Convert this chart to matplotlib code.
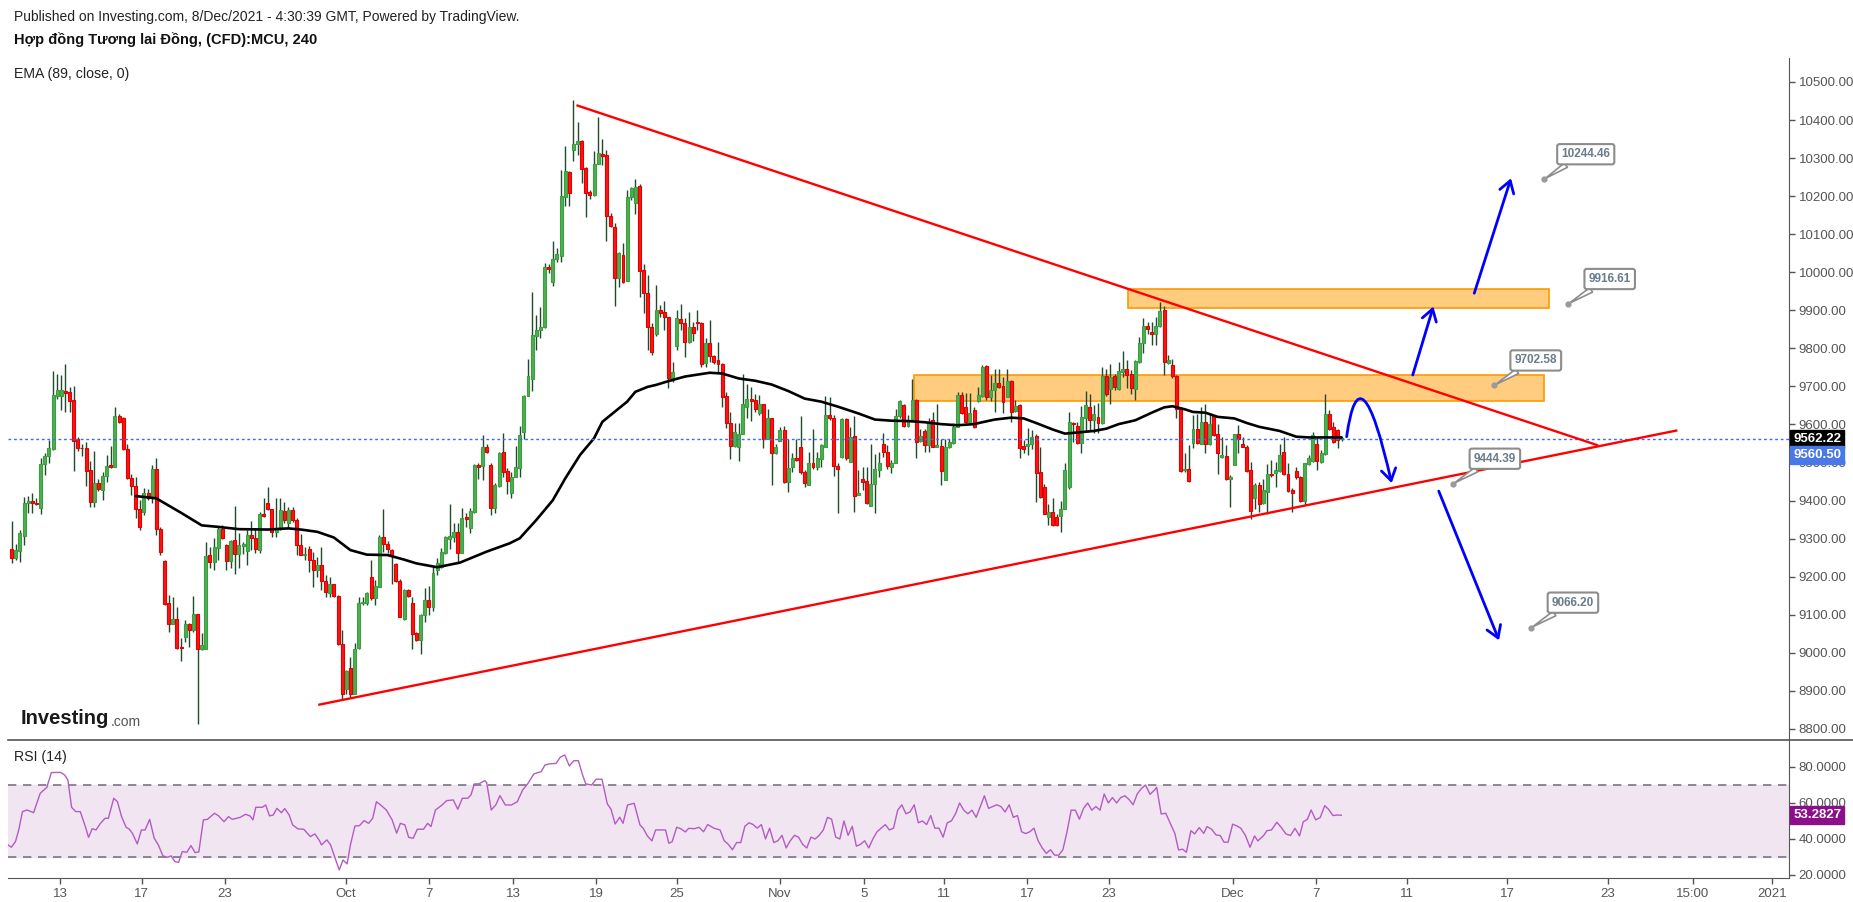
import matplotlib
matplotlib.use("Agg")
import matplotlib.pyplot as plt
from matplotlib.patches import Rectangle, FancyArrowPatch
from matplotlib.path import Path
from matplotlib.lines import Line2D

# ---- data (4h candles, bar index 0 = Sep 8 late) ----
opens = [
    9272, 9250, 9268, 9308, 9393, 9400, 9394, 9381, 9495, 9517,
    9536, 9675, 9675, 9688, 9685, 9664, 9563, 9539, 9537, 9480,
    9396, 9445, 9429, 9464, 9493, 9489, 9622, 9618, 9535, 9460,
    9439, 9379, 9371, 9419, 9408, 9482, 9326, 9241, 9130, 9077,
    9088, 9015, 9042, 9075, 9061, 9102, 9011, 9011, 9256, 9239,
    9276, 9325, 9283, 9242, 9296, 9261, 9280, 9268, 9309, 9303,
    9270, 9364, 9393, 9377, 9318, 9325, 9372, 9342, 9375, 9350,
    9283, 9258, 9274, 9245, 9217, 9230, 9189, 9156, 9180, 9150,
    9022, 8904, 8961, 8893, 9014, 9130, 9130, 9200, 9143, 9173,
    9305, 9287, 9270, 9233, 9188, 9090, 9165, 9130, 9051, 9035,
    9099, 9140, 9120, 9218, 9226, 9263, 9298, 9305, 9317, 9263,
    9357, 9327, 9371, 9494, 9492, 9540, 9494, 9380, 9439, 9529,
    9478, 9419, 9461, 9485, 9579, 9675, 9719, 9833, 9847, 9855,
    10013, 9975, 10034, 10044, 10199, 10264, 10321, 10336, 10345, 10273,
    10210, 10202, 10285, 10310, 10307, 10149, 10118, 9984, 10045, 9978,
    10197, 10183, 10227, 10006, 9946, 9855, 9838, 9901, 9896, 9882,
    9717, 9807, 9876, 9866, 9818, 9855, 9868, 9866, 9761, 9813,
    9780, 9769, 9759, 9675, 9603, 9544, 9540, 9576, 9645, 9668,
    9664, 9629, 9654, 9563, 9616, 9524, 9557, 9585, 9448, 9489,
    9513, 9540, 9474, 9442, 9498, 9489, 9509, 9541, 9624, 9616,
    9491, 9515, 9614, 9502, 9569, 9416, 9458, 9451, 9386, 9443,
    9480, 9550, 9527, 9489, 9499, 9622, 9651, 9597, 9614, 9664,
    9556, 9583, 9546, 9611, 9541, 9543, 9454, 9540, 9552, 9594,
    9677, 9645, 9607, 9638, 9662, 9675, 9753, 9673, 9690, 9708,
    9701, 9673, 9714, 9636, 9651, 9543, 9544, 9550, 9570, 9475,
    9436, 9357, 9370, 9357, 9359, 9377, 9436, 9605, 9596, 9552,
    9618, 9645, 9611, 9620, 9603, 9727, 9692, 9728, 9692, 9738,
    9745, 9734, 9692, 9765, 9813, 9858, 9843, 9839, 9858, 9900,
    9762, 9756, 9727, 9642, 9480, 9484, 9552, 9589, 9550, 9607,
    9548, 9622, 9575, 9515, 9518, 9458, 9494, 9575, 9550, 9541,
    9480, 9406, 9441, 9394, 9423, 9471, 9473, 9478, 9528, 9471,
    9427, 9477, 9462, 9399, 9496, 9505, 9548, 9502, 9522, 9627,
    9594, 9585, 9561,
]
highs = [
    9346, 9287, 9322, 9410, 9413, 9419, 9406, 9511, 9526, 9559,
    9740, 9734, 9731, 9759, 9699, 9701, 9568, 9550, 9555, 9504,
    9530, 9458, 9476, 9520, 9543, 9645, 9627, 9620, 9550, 9471,
    9463, 9401, 9432, 9430, 9493, 9513, 9331, 9244, 9152, 9147,
    9121, 9038, 9086, 9079, 9149, 9103, 9051, 9290, 9279, 9301,
    9331, 9336, 9285, 9296, 9385, 9314, 9290, 9322, 9347, 9325,
    9371, 9408, 9436, 9379, 9406, 9406, 9397, 9384, 9384, 9355,
    9311, 9279, 9280, 9265, 9252, 9279, 9204, 9200, 9182, 9152,
    9060, 8954, 8990, 9025, 9147, 9147, 9160, 9244, 9191, 9309,
    9379, 9294, 9274, 9235, 9195, 9169, 9169, 9147, 9055, 9103,
    9170, 9175, 9225, 9248, 9275, 9307, 9391, 9340, 9340, 9380,
    9367, 9380, 9496, 9498, 9572, 9549, 9498, 9445, 9529, 9578,
    9485, 9476, 9543, 9596, 9677, 9772, 9949, 9888, 9910, 10025,
    10023, 10082, 10063, 10269, 10332, 10267, 10453, 10394, 10348, 10276,
    10216, 10319, 10409, 10349, 10320, 10155, 10129, 10054, 10078, 10216,
    10225, 10244, 10231, 10023, 9993, 9866, 9967, 9914, 9925, 9883,
    9765, 9901, 9916, 9879, 9896, 9870, 9901, 9870, 9826, 9875,
    9782, 9816, 9762, 9686, 9633, 9604, 9603, 9732, 9706, 9699,
    9681, 9677, 9655, 9640, 9616, 9550, 9594, 9596, 9563, 9524,
    9563, 9622, 9480, 9528, 9588, 9527, 9550, 9676, 9673, 9625,
    9498, 9618, 9618, 9594, 9622, 9480, 9489, 9489, 9548, 9522,
    9528, 9578, 9546, 9506, 9642, 9664, 9654, 9625, 9719, 9668,
    9587, 9587, 9618, 9633, 9655, 9563, 9561, 9563, 9603, 9686,
    9686, 9682, 9682, 9645, 9699, 9756, 9756, 9730, 9747, 9747,
    9725, 9747, 9717, 9664, 9655, 9559, 9590, 9585, 9575, 9541,
    9443, 9392, 9406, 9366, 9399, 9499, 9633, 9607, 9607, 9648,
    9688, 9679, 9651, 9657, 9752, 9747, 9759, 9734, 9765, 9794,
    9769, 9743, 9769, 9830, 9879, 9870, 9870, 9883, 9922, 9911,
    9782, 9773, 9730, 9645, 9524, 9546, 9625, 9627, 9646, 9655,
    9631, 9625, 9601, 9568, 9546, 9467, 9576, 9598, 9568, 9546,
    9502, 9447, 9449, 9458, 9496, 9508, 9502, 9550, 9568, 9498,
    9432, 9489, 9464, 9499, 9519, 9581, 9568, 9533, 9680, 9638,
    9607, 9589, 9568,
]
lows = [
    9235, 9244, 9239, 9283, 9368, 9368, 9388, 9366, 9467, 9499,
    9533, 9668, 9638, 9633, 9633, 9478, 9531, 9517, 9439, 9384,
    9384, 9425, 9401, 9449, 9487, 9489, 9604, 9534, 9458, 9416,
    9355, 9322, 9362, 9401, 9394, 9309, 9257, 9125, 9055, 9077,
    9010, 8979, 9029, 9016, 9055, 8814, 9007, 9011, 9224, 9217,
    9244, 9299, 9217, 9224, 9206, 9222, 9261, 9230, 9270, 9263,
    9263, 9357, 9375, 9305, 9305, 9322, 9340, 9331, 9344, 9257,
    9257, 9244, 9213, 9173, 9200, 9165, 9147, 9147, 9147, 9020,
    8880, 8893, 8884, 8893, 9011, 9125, 9125, 9140, 9125, 9173,
    9265, 9263, 9182, 9187, 9093, 9086, 9147, 9011, 9032, 8997,
    9080, 9100, 9110, 9205, 9222, 9261, 9272, 9292, 9237, 9263,
    9331, 9314, 9367, 9458, 9454, 9524, 9362, 9368, 9437, 9461,
    9417, 9408, 9461, 9463, 9561, 9675, 9688, 9797, 9826, 9853,
    9999, 9964, 10028, 10028, 10174, 10175, 10293, 10308, 10235, 10146,
    10192, 10200, 10285, 10282, 10082, 10120, 9912, 9962, 9971, 9978,
    10190, 10153, 9936, 9892, 9797, 9783, 9833, 9883, 9848, 9697,
    9712, 9797, 9848, 9778, 9815, 9820, 9848, 9750, 9752, 9765,
    9760, 9738, 9647, 9592, 9509, 9541, 9505, 9575, 9616, 9610,
    9633, 9625, 9537, 9561, 9441, 9522, 9557, 9445, 9423, 9474,
    9505, 9471, 9435, 9441, 9484, 9480, 9489, 9540, 9611, 9465,
    9368, 9511, 9508, 9502, 9371, 9414, 9428, 9392, 9386, 9368,
    9463, 9515, 9484, 9473, 9499, 9616, 9594, 9594, 9613, 9511,
    9555, 9528, 9528, 9540, 9540, 9441, 9454, 9537, 9550, 9594,
    9627, 9604, 9605, 9590, 9660, 9673, 9664, 9662, 9633, 9695,
    9629, 9671, 9607, 9633, 9513, 9524, 9520, 9535, 9397, 9406,
    9364, 9335, 9334, 9333, 9318, 9377, 9430, 9554, 9550, 9526,
    9581, 9585, 9578, 9578, 9601, 9674, 9655, 9690, 9690, 9725,
    9695, 9681, 9664, 9762, 9787, 9839, 9808, 9808, 9857, 9730,
    9760, 9723, 9616, 9476, 9476, 9449, 9537, 9548, 9548, 9526,
    9546, 9569, 9471, 9511, 9455, 9384, 9493, 9524, 9540, 9476,
    9353, 9379, 9370, 9392, 9364, 9462, 9436, 9476, 9467, 9423,
    9370, 9458, 9397, 9388, 9493, 9502, 9480, 9499, 9519, 9585,
    9552, 9537, 9557,
]
closes = [
    9250, 9270, 9314, 9393, 9399, 9393, 9390, 9495, 9517, 9538,
    9677, 9690, 9690, 9684, 9662, 9557, 9537, 9537, 9478, 9396,
    9445, 9431, 9464, 9492, 9489, 9622, 9607, 9536, 9460, 9439,
    9379, 9331, 9419, 9408, 9482, 9326, 9265, 9128, 9077, 9090,
    9013, 9013, 9075, 9061, 9102, 9011, 9020, 9254, 9239, 9277,
    9325, 9301, 9242, 9294, 9261, 9283, 9287, 9309, 9302, 9272,
    9366, 9359, 9378, 9318, 9327, 9375, 9349, 9375, 9350, 9283,
    9258, 9258, 9244, 9217, 9230, 9189, 9159, 9180, 9150, 9022,
    8893, 8953, 8893, 9011, 9130, 9134, 9156, 9143, 9175, 9305,
    9287, 9272, 9257, 9189, 9095, 9165, 9149, 9049, 9035, 9099,
    9140, 9120, 9210, 9235, 9266, 9305, 9307, 9317, 9263, 9354,
    9351, 9373, 9494, 9489, 9540, 9529, 9380, 9441, 9526, 9476,
    9452, 9463, 9489, 9572, 9675, 9727, 9835, 9847, 9857, 10013,
    10008, 10035, 10048, 10200, 10267, 10209, 10337, 10346, 10271, 10207,
    10202, 10285, 10313, 10306, 10149, 10122, 9984, 10050, 9974, 10197,
    10221, 10225, 10004, 9945, 9855, 9791, 9901, 9894, 9883, 9721,
    9739, 9879, 9866, 9816, 9855, 9841, 9866, 9758, 9813, 9780,
    9765, 9758, 9673, 9604, 9544, 9579, 9576, 9654, 9668, 9662,
    9640, 9654, 9563, 9616, 9524, 9540, 9585, 9448, 9487, 9513,
    9506, 9474, 9445, 9500, 9489, 9513, 9546, 9626, 9616, 9491,
    9482, 9614, 9511, 9568, 9413, 9420, 9449, 9394, 9443, 9482,
    9500, 9528, 9491, 9500, 9622, 9661, 9597, 9611, 9664, 9553,
    9569, 9546, 9607, 9541, 9546, 9478, 9541, 9553, 9594, 9677,
    9629, 9607, 9629, 9594, 9677, 9752, 9673, 9690, 9708, 9699,
    9660, 9714, 9633, 9649, 9539, 9536, 9550, 9566, 9473, 9410,
    9366, 9370, 9335, 9335, 9379, 9480, 9607, 9601, 9552, 9620,
    9651, 9613, 9627, 9604, 9727, 9679, 9725, 9699, 9740, 9745,
    9730, 9695, 9766, 9813, 9858, 9850, 9839, 9858, 9899, 9763,
    9769, 9727, 9642, 9478, 9484, 9452, 9589, 9552, 9607, 9550,
    9601, 9572, 9524, 9519, 9458, 9461, 9575, 9561, 9541, 9478,
    9373, 9441, 9392, 9427, 9469, 9466, 9480, 9519, 9469, 9426,
    9419, 9461, 9399, 9498, 9511, 9572, 9505, 9526, 9627, 9587,
    9554, 9559, 9563,
]

# EMA(89) as drawn on the chart: (bar, value)
ema_pts = [
    (30, 9412), (35, 9406), (41, 9368), (46, 9335), (50, 9331), (55, 9325),
    (62, 9324), (67, 9327), (70, 9324), (74, 9318), (78, 9303), (82, 9270),
    (86, 9258), (91, 9257), (95, 9245), (98, 9235), (103, 9225), (108.5, 9237),
    (115, 9266), (120.6, 9288), (123, 9301), (127, 9349), (131, 9401), (134, 9458),
    (137.6, 9520), (141, 9564), (143, 9607), (146.5, 9638), (149, 9660), (151, 9686),
    (154, 9699), (156, 9704), (159, 9714), (163, 9726), (169, 9736), (172, 9734),
    (176, 9721), (180, 9715), (184, 9705), (188, 9688), (192, 9668), (196, 9660),
    (200, 9647), (205, 9629), (209, 9613), (213, 9610), (217, 9609), (221, 9606),
    (225, 9601), (229, 9598), (233, 9601), (235, 9606), (238, 9613), (242, 9618),
    (245, 9616), (248, 9604), (252, 9587), (255, 9576), (257, 9578), (262, 9583),
    (265, 9589), (268, 9601), (272, 9611), (276, 9631), (279, 9645), (281, 9648),
    (284, 9640), (286, 9633), (289, 9631), (292, 9620), (296, 9616), (299, 9604),
    (302, 9594), (307, 9583), (311, 9568), (314, 9566), (319, 9566), (322, 9566),
]

# RSI(14) as drawn on the chart: (bar, value)
rsi_pts = [
    (-0.9, 36.7), (-0.1, 35.4), (0.9, 38.5), (1.7, 45.0), (2.6, 55.2), (3.7, 56.1),
    (5.3, 54.6), (6.9, 65.4), (8.5, 68.7), (9.6, 76.9), (11.8, 77.0), (12.8, 75.6),
    (13.6, 72.8), (14.5, 57.6), (15.5, 55.2), (16.6, 55.2), (17.7, 47.8), (18.6, 40.9),
    (19.5, 45.7), (20.4, 45.0), (21.5, 48.7), (22.6, 51.5), (23.4, 51.5), (24.7, 62.6),
    (25.6, 60.7), (26.6, 52.4), (27.7, 46.5), (28.5, 45.4), (29.3, 42.8), (30.4, 37.2),
    (31.4, 45.0), (32.3, 45.0), (33.4, 50.9), (34.5, 40.4), (35.5, 36.7), (36.6, 30.6),
    (37.7, 29.8), (38.6, 30.6), (39.5, 27.4), (40.4, 27.0), (41.3, 33.0), (42.4, 32.6),
    (43.4, 36.3), (44.4, 32.4), (45.3, 32.8), (46.4, 50.6), (47.4, 50.9), (49.1, 54.3),
    (50.1, 52.8), (51.4, 49.6), (52.5, 52.4), (53.4, 50.9), (55.3, 52.0), (56.6, 53.7),
    (57.7, 52.8), (58.4, 50.6), (59.1, 57.6), (60.7, 57.6), (61.5, 58.9), (62.4, 52.8),
    (63.3, 53.3), (64.2, 57.0), (65.3, 54.6), (66.1, 56.9), (67.2, 53.2), (68.0, 47.8),
    (69.3, 45.6), (70.7, 45.4), (72.3, 41.3), (73.4, 42.8), (74.5, 39.1), (75.0, 36.7),
    (76.3, 39.5), (77.2, 36.7), (78.3, 29.3), (79.3, 22.8), (80.2, 28.3), (81.2, 26.1),
    (82.0, 36.7), (83.1, 47.2), (84.2, 47.4), (85.3, 50.2), (86.4, 48.7), (87.4, 51.5),
    (88.3, 60.7), (89.3, 58.9), (90.7, 56.1), (92.1, 50.6), (93.2, 43.2), (94.1, 48.7),
    (95.2, 47.8), (96.1, 40.9), (97.2, 40.4), (98.2, 45.4), (99.7, 45.4), (100.7, 48.7),
    (101.5, 46.9), (102.6, 56.1), (104.2, 58.9), (105.3, 61.3), (106.9, 61.7), (108.0, 56.5),
    (109.1, 62.6), (110.4, 62.6), (111.2, 64.5), (112.0, 70.6), (113.1, 70.6), (114.5, 72.4),
    (115.0, 71.3), (116.1, 56.1), (117.2, 58.9), (118.2, 64.1), (119.5, 58.9), (121.0, 58.9),
    (122.4, 60.7), (123.7, 67.2), (125.0, 70.9), (126.4, 76.1), (127.4, 76.9), (128.2, 77.4),
    (129.1, 81.1), (130.1, 81.7), (131.8, 82.0), (132.8, 85.4), (133.9, 86.7), (135.0, 80.6),
    (136.1, 83.5), (137.2, 83.5), (138.2, 75.6), (139.0, 70.6), (140.4, 70.0), (141.5, 73.2),
    (142.9, 73.2), (144.2, 59.5), (145.1, 56.5), (146.1, 48.3), (147.2, 52.1), (148.0, 48.7),
    (149.1, 58.9), (150.7, 59.8), (152.1, 47.8), (152.9, 45.9), (153.9, 41.7), (155.0, 38.9),
    (155.9, 45.0), (157.2, 45.0), (158.3, 45.0), (159.1, 37.6), (159.9, 38.5), (161.0, 46.5),
    (162.0, 45.7), (163.1, 43.9), (163.9, 45.9), (165.3, 45.7), (166.4, 46.5),
    (167.5, 44), (168.5, 48), (170, 46), (171.5, 45), (172.5, 39), (173.5, 37),
    (174.5, 34), (175.5, 38), (176.5, 38), (177.5, 47), (178.5, 49), (179.5, 48),
    (180.5, 46), (181.5, 48), (182.5, 40), (183.5, 46), (184.5, 38), (185.5, 39),
    (186.5, 42), (187.5, 35), (188.5, 39), (189.5, 42), (190.5, 41), (191.5, 37),
    (192.5, 35), (193.5, 41), (194.5, 40), (195.5, 42), (196.5, 45), (197.5, 52),
    (198.5, 51), (199.5, 41), (200.5, 40), (201.5, 50), (202.5, 42), (203.5, 47),
    (204.5, 36), (205.5, 37), (206.5, 39), (207.5, 35), (208.5, 40), (209.5, 44),
    (210.5, 46), (211.5, 48), (212.5, 45), (213.5, 46), (214.5, 56), (215.5, 59),
    (216.5, 54), (217.5, 55), (218.5, 59), (219.5, 49), (220.5, 50), (221.5, 48),
    (222.5, 53), (223.5, 46), (224.5, 46), (225.5, 41), (226.5, 49), (227.5, 50),
    (228.5, 54), (229.5, 60), (230.5, 56), (231.5, 54), (232.5, 56), (233.5, 52),
    (234.5, 58), (235.5, 64), (236.5, 57), (237.5, 58), (238.5, 59), (239.5, 58),
    (240.5, 55), (241.5, 59), (242.5, 52), (243.5, 53), (244.5, 44), (245.5, 43),
    (246.5, 44), (247.5, 46), (248.5, 39), (249.5, 35), (250.5, 32), (251.5, 34),
    (252.5, 31), (253.5, 31), (254.5, 34), (255.5, 44), (256.5, 56), (257.5, 56),
    (258.5, 51), (259.5, 57), (260.5, 60), (261.5, 56), (262.5, 58), (263.5, 56),
    (264.5, 65), (265.5, 60), (266.5, 63), (267.5, 60), (268.5, 63), (269.5, 64),
    (270.5, 62), (271.5, 59), (272.5, 65), (273.5, 68), (274.5, 70),
    (275.6, 64.8), (276.7, 67.2), (277.2, 68.7), (278.3, 53.9), (279.4, 54.3), (280.5, 48.7),
    (281.6, 43.1), (282.5, 33.9), (283.5, 34.3), (284.4, 32.6), (285.5, 44.6), (286.4, 42.8),
    (287.5, 46.3), (288.6, 43.1), (289.4, 46.9), (290.5, 45.4), (291.6, 42.2), (292.6, 41.9),
    (293.5, 38.2), (294.5, 38.2), (295.6, 48.2), (296.7, 47.2), (297.6, 45.9), (298.7, 41.9),
    (299.8, 35.4), (300.9, 41.7), (301.7, 38.9), (303.1, 41.9), (303.9, 44.6), (305.0, 45.0),
    (306.3, 49.3), (307.4, 46.3), (308.5, 42.8), (309.6, 41.9), (310.7, 45.9), (311.8, 41.7),
    (312.7, 49.6), (313.7, 50.9), (314.6, 56.1), (315.7, 50.6), (316.8, 51.9), (317.9, 58.5),
    (318.8, 56.5), (319.9, 53.0), (321.0, 53.3), (321.9, 53.2),
]

tick_pos = [11.7, 31.5, 51.6, 80.9, 101, 121.4, 141.5, 161.1, 186, 206.4,
            225.7, 245.8, 265.7, 295.7, 315.8, 337.8, 362.1, 386.5, 407, 426.2]
tick_lab = ["13", "17", "23", "Oct", "7", "13", "19", "25", "Nov", "5",
            "11", "17", "23", "Dec", "7", "11", "17", "23", "15:00", "2021"]

last_price = 9562.22
bid_price = 9560.50
rsi_last = 53.2827
callout_vals = [10244.46, 9916.61, 9702.58, 9444.39, 9066.20]
callout_bar = [371.0, 376.8, 358.9, 349.0, 367.9]

# drawings: boxes (x0, x1, y0, y1), trend lines and arrows in (bar, price)
zones = [(218.5, 371.1, 9661, 9729), (270.3, 372.1, 9907, 9955)]
trend_lines = [((137.0, 10438), (383.8, 9546)), ((74.5, 8864), (403.0, 9584))]
arrows = [((339.2, 9730), (344.2, 9910)), ((354.1, 9945), (363.0, 10247)),
          ((345.5, 9425), (360.1, 9033))]
curve_arrow = [(323.2, 9568), (326.4, 9815), (334.1, 9446)]

plt.rcParams["font.family"] = ["Liberation Sans", "DejaVu Sans"]
W, H = 1853, 902
fig = plt.figure(figsize=(W / 100, H / 100), dpi=100)
fig.patch.set_facecolor("white")
ax = fig.add_axes([8 / W, 1 - 740 / H, (1789 - 8) / W, (740 - 58) / H])
axr = fig.add_axes([8 / W, 1 - 878 / H, (1789 - 8) / W, (878 - 740) / H], sharex=ax)

axis_col = "#555555"
n = len(closes)
xs = list(range(n))

# zones under the candles
for x0, x1, y0, y1 in zones:
    ax.add_patch(Rectangle((x0, y0), x1 - x0, y1 - y0, fc="#ffcc80", ec="#ff9800",
                           lw=1.2, zorder=1))

# candles
up = [c >= o for o, c in zip(opens, closes)]
bottoms = [min(o, c) for o, c in zip(opens, closes)]
heights = [max(abs(c - o), 2.5) for o, c in zip(opens, closes)]
ax.vlines(xs, lows, highs, colors="#1f4a2b", lw=1, zorder=2)
ax.bar(xs, heights, bottom=bottoms, width=0.72,
       color=["#4caf50" if u else "#ff1414" for u in up],
       edgecolor=["#3e9d43" if u else "#e00000" for u in up], lw=0.8, zorder=3)

ax.plot([p[0] for p in ema_pts], [p[1] for p in ema_pts], color="black", lw=1.9,
        zorder=4, solid_capstyle="round")

ax.axhline(last_price, color="#3a6cf0", lw=1, ls=(0, (2, 2)), zorder=4)

for (a, b) in trend_lines:
    ax.plot([a[0], b[0]], [a[1], b[1]], color="#ff0000", lw=1.7, zorder=5)

head = "->,head_length=0.55,head_width=0.35"
for (a, b) in arrows:
    ax.annotate("", xy=b, xytext=a, zorder=6,
                arrowprops=dict(arrowstyle=head, color="#0000ff", lw=2,
                                shrinkA=0, shrinkB=0, mutation_scale=15))
curve = Path(curve_arrow, [Path.MOVETO, Path.CURVE3, Path.CURVE3])
ax.add_patch(FancyArrowPatch(path=curve, arrowstyle=head, color="#0000ff", lw=2,
                             mutation_scale=15, zorder=6))

for cx, cv in zip(callout_bar, callout_vals):
    ax.annotate(f"{cv:.2f}", xy=(cx, cv), xytext=(30, 18), textcoords="offset points",
                ha="center", va="center", fontsize=8.5, fontweight="bold", color="#6a7b8c",
                zorder=7,
                bbox=dict(boxstyle="round,pad=0.35,rounding_size=0.2", fc="white",
                          ec="#8c8c8c", lw=1.5),
                arrowprops=dict(arrowstyle="wedge,tail_width=0.45", fc="white",
                                ec="#8c8c8c", lw=1.2, shrinkA=0, shrinkB=1,
                                relpos=(0.25, 0.0)))
    ax.plot(cx, cv, "o", ms=3.5, color="#9a9a9a", zorder=8)

ax.set_xlim(-0.9, 430.3)
ax.set_ylim(8771, 10563)
ax.yaxis.tick_right()
ax.set_yticks(range(8800, 10501, 100))
ax.set_yticklabels([f"{v:.2f}" for v in range(8800, 10501, 100)])
ax.tick_params(axis="y", colors=axis_col, labelcolor=axis_col, labelsize=9.5,
               length=4, width=1, pad=3)
ax.tick_params(axis="x", bottom=False, labelbottom=False)
for s in ["left", "top", "bottom"]:
    ax.spines[s].set_visible(False)
ax.spines["right"].set_color(axis_col)

lab_kw = dict(xycoords=("axes fraction", "data"), textcoords="offset points",
              ha="left", va="center", color="white", fontweight="bold", fontsize=9.5,
              annotation_clip=False, zorder=10)
ax.annotate(f"{last_price:.2f}", xy=(1, last_price), xytext=(3, 0),
            bbox=dict(boxstyle="square,pad=0.22", fc="black", ec="black"), **lab_kw)
ax.annotate(f"{bid_price:.2f}", xy=(1, last_price), xytext=(3, -11.5),
            bbox=dict(boxstyle="square,pad=0.22", fc="#4a78e6", ec="#4a78e6"), **lab_kw)

# RSI pane
axr.axhspan(30, 70, color="#f1e5f2", zorder=0)
for lvl in (30, 70):
    axr.axhline(lvl, color="#7a7480", lw=1.2, ls=(0, (5, 4)), zorder=1)
axr.plot([p[0] for p in rsi_pts], [p[1] for p in rsi_pts], color="#b35cc2", lw=1, zorder=2)
axr.set_ylim(18.3, 95)
axr.yaxis.tick_right()
axr.set_yticks([20, 40, 60, 80])
axr.set_yticklabels([f"{v:.4f}" for v in (20, 40, 60, 80)])
axr.tick_params(axis="y", colors=axis_col, labelcolor=axis_col, labelsize=9.5,
                length=4, width=1, pad=3)
axr.set_xticks(tick_pos)
axr.set_xticklabels(tick_lab)
axr.tick_params(axis="x", colors=axis_col, labelcolor=axis_col, labelsize=9.5,
                length=4, width=1, pad=3)
for s in ["left", "top"]:
    axr.spines[s].set_visible(False)
axr.spines["right"].set_color(axis_col)
axr.spines["bottom"].set_color(axis_col)
axr.annotate(f"{rsi_last:.4f}", xy=(1, rsi_last), xycoords=("axes fraction", "data"),
             xytext=(3, 0), textcoords="offset points", ha="left", va="center",
             color="white", fontweight="bold", fontsize=9.5, annotation_clip=False,
             bbox=dict(boxstyle="square,pad=0.22", fc="#8b0f8b", ec="#8b0f8b"))

fig.add_artist(Line2D([8 / W, 1], [1 - 740 / H, 1 - 740 / H], color=axis_col, lw=1.2))

# header and pane labels
fig.text(14 / W, 1 - 17 / H,
         "Published on Investing.com, 8/Dec/2021 - 4:30:39 GMT, Powered by TradingView.",
         fontsize=10, color="#222222", va="center")
fig.text(14 / W, 1 - 40 / H, "Hợp đồng Tương lai Đồng, (CFD):MCU, 240",
         fontsize=10.5, fontweight="bold", color="#111111", va="center",
         family=["Liberation Sans Narrow", "Liberation Sans", "DejaVu Sans"])
narrow = ["Liberation Sans Narrow", "Liberation Sans", "DejaVu Sans"]
fig.text(14 / W, 1 - 74 / H, "EMA (89, close, 0)", fontsize=10.2, color="#222222",
         va="center", family=narrow)
fig.text(14 / W, 1 - 757 / H, "RSI (14)", fontsize=10.2, color="#222222",
         va="center", family=narrow)
fig.text(21 / W, 1 - 719 / H, "Investing", fontsize=14.5, fontweight="bold",
         color="#1a1a1a", va="center")
fig.text(111 / W, 1 - 722 / H, ".com", fontsize=10, color="#555555", va="center")

fig.savefig("out.png", dpi=100)
